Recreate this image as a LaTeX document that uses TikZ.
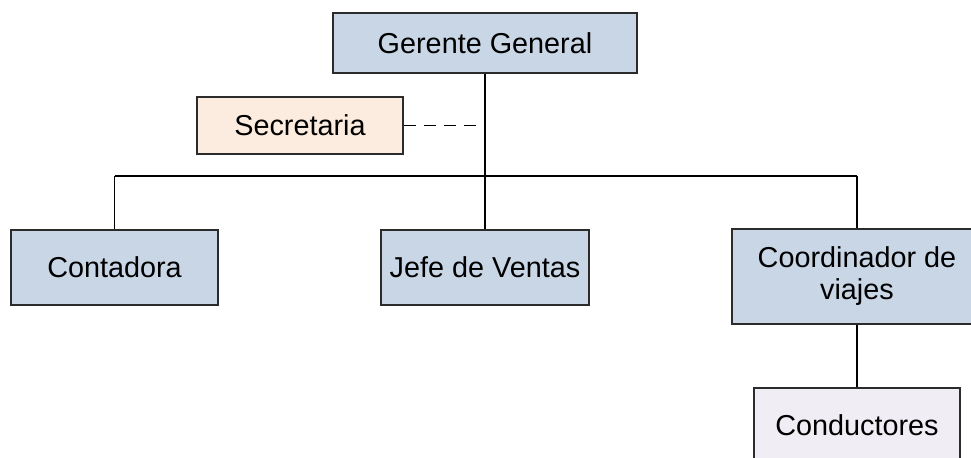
\documentclass[tikz,border=0pt]{standalone}
\usepackage{fontspec}
\setmainfont{Liberation Sans}
\usepackage{xcolor}
\definecolor{cargo}{HTML}{C9D6E6}
\definecolor{apoyo}{HTML}{FCEBDF}
\definecolor{base}{HTML}{F0EEF4}
\definecolor{borde}{HTML}{2B2B2B}
\tikzset{
    puesto/.style={draw=borde, line width=0.9pt, inner sep=0pt, align=center,
        font=\fontsize{14.4}{16}\selectfont},
    enlace/.style={line width=0.9pt, draw=black}
}

\begin{document}
\begin{tikzpicture}[x=0.5pt, y=-0.5pt]
                \useasboundingbox (0,0) rectangle (971,458);
                \clip (0,0) rectangle (971,458);

                \node[puesto, fill=cargo, minimum width=152pt, minimum height=30pt] (gg) at (485,43) {Gerente General};
                \node[puesto, fill=apoyo, minimum width=103pt, minimum height=28.5pt] (sec) at (300,125.5) {Secretaria};
                \node[puesto, fill=cargo, minimum width=103.5pt, minimum height=37.5pt] (cont) at (114.5,267.5) {Contadora};
                \node[puesto, fill=cargo, minimum width=104pt, minimum height=37.5pt] (jefe) at (485,267.5) {Jefe de Ventas};
                \node[puesto, fill=cargo, minimum width=125pt, minimum height=47.5pt] (coord) at (857,276.5) {Coordinador de\\viajes};
                \node[puesto, fill=base, minimum width=103pt, minimum height=37.5pt] (cond) at (857,425.5) {Conductores};

                \coordinate (bus) at (0,176);

                % draw reporting lines
                \draw[enlace] (gg.south) -- (jefe.north);
                \draw[enlace, dash pattern=on 6pt off 4pt] (sec.east) -- (sec.east -| gg.south);
                \draw[enlace] (cont |- bus) -- (coord |- bus);
                \foreach \n in {cont, coord} {
                    \draw[enlace] (\n |- bus) -- (\n.north);
                }
                \draw[enlace] (coord.south) -- (cond.north);
            \end{tikzpicture}
\end{document}
